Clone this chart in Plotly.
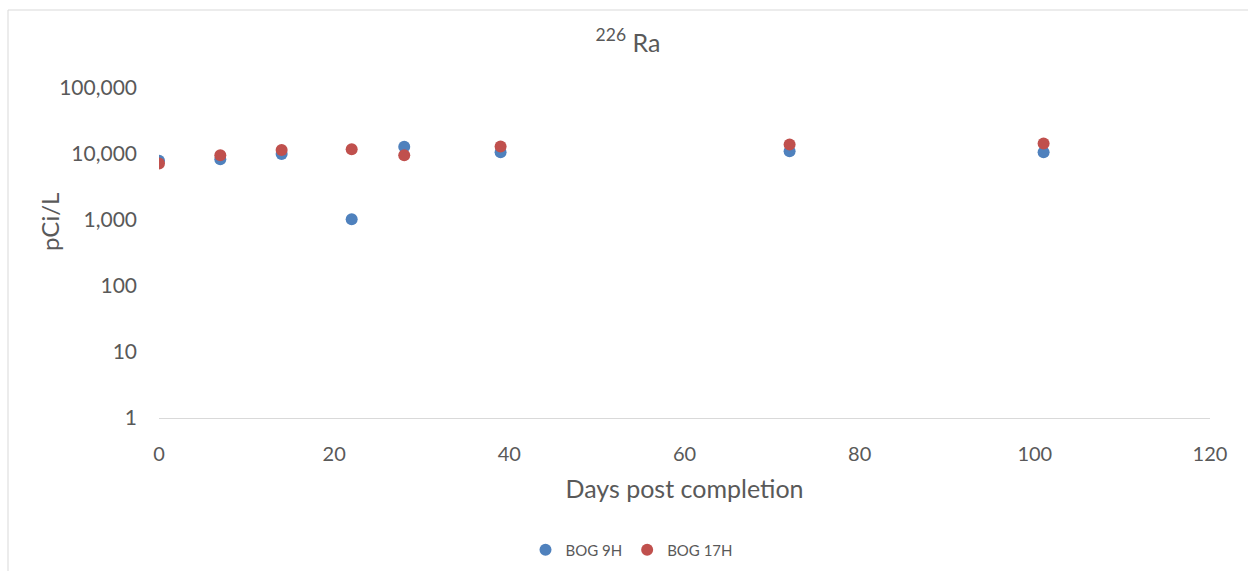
import plotly.graph_objects as go

days = [0, 7, 14, 22, 28, 39, 72, 101]
bog_9h = [7900, 8300, 10000, 1030, 12900, 10600, 11000, 10600]
bog_17h = [7200, 9600, 11500, 11800, 9600, 13000, 13900, 14400]
y_ticks = [1, 10, 100, 1000, 10000, 100000]
y_labels = ["1", "10", "100", "1,000", "10,000", "100,000"]

FONT = "Lato, 'Open Sans', sans-serif"
GRAY = "#595959"

fig = go.Figure()
fig.add_trace(go.Scatter(x=days, y=bog_9h, mode="markers", name="BOG 9H",
                         marker=dict(color="#4F81BD", size=12)))
fig.add_trace(go.Scatter(x=days, y=bog_17h, mode="markers", name="BOG 17H",
                         marker=dict(color="#C0504D", size=12)))

W, H = 1248, 571
L, R, T, B = 159, 38, 88, 153
pw, ph = W - L - R, H - T - B
def px(x): return (x - L) / pw
def py(y): return (H - B - y) / ph

fig.update_layout(
    width=W, height=H,
    margin=dict(l=L, r=R, t=T, b=B, autoexpand=False),
    paper_bgcolor="white", plot_bgcolor="white",
    font=dict(family=FONT, color=GRAY),
    title=dict(text="<sup>226</sup> Ra", x=628 / W, xanchor="center", xref="container",
               y=1 - 43 / H, yanchor="middle",
               font=dict(size=25, color=GRAY, family=FONT)),
    xaxis=dict(range=[0, 120], dtick=20, showgrid=False, zeroline=False,
               showline=True, linecolor="#D9D9D9", linewidth=1, ticks="",
               ticklabelstandoff=18, automargin=False,
               tickfont=dict(size=20, color=GRAY),
               title=dict(text="Days post completion", font=dict(size=25, color=GRAY), standoff=16)),
    yaxis=dict(type="log", range=[0, 5], tickvals=y_ticks, ticktext=y_labels,
               showgrid=False, zeroline=False, showline=False, ticks="",
               ticklabelstandoff=21, automargin=False,
               tickfont=dict(size=21, color=GRAY)),
    annotations=[
        dict(text="pCi/L", xref="paper", yref="paper", x=px(50), y=py(222),
             xanchor="center", yanchor="middle", textangle=-90, showarrow=False,
             font=dict(size=24, color=GRAY, family=FONT)),
    ],
    showlegend=True,
    legend=dict(orientation="h", x=px(632), xanchor="center", y=py(550), yanchor="middle",
                font=dict(size=15, color=GRAY), itemwidth=30, tracegroupgap=0),
    shapes=[
        dict(type="line", xref="paper", yref="paper", x0=px(8), x1=px(1250), y0=py(10), y1=py(10),
             line=dict(color="#D9D9D9", width=1)),
        dict(type="line", xref="paper", yref="paper", x0=px(8), x1=px(8), y0=py(10), y1=py(580),
             line=dict(color="#D9D9D9", width=1)),
    ],
)

fig.write_html("out.html")
